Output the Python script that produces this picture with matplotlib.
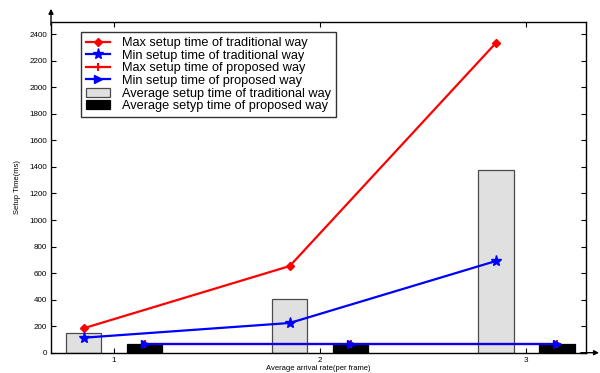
import matplotlib
matplotlib.use("Agg")
import matplotlib.pyplot as plt
import numpy as np

plt.rcParams['font.family'] = ['Liberation Sans', 'DejaVu Sans']

rates = [1, 2, 3]
max_traditional = [184, 653, 2334]
min_traditional = [113, 224, 691]
max_proposed = [65, 65, 65]
min_proposed = [65, 65, 65]
avg_traditional = [146, 405, 1378]
avg_proposed = [68, 66, 66]

labels = [
    "Max setup time of traditional way",
    "Min setup time of traditional way",
    "Max setup time of proposed way",
    "Min setup time of proposed way",
    "Average setup time of traditional way",
    "Average setyp time of proposed way",
]

x = np.array(rates, dtype=float)
offset = 0.148
width = 0.172

fig = plt.figure(figsize=(6.0, 3.73), dpi=100)
ax = fig.add_axes([0.085, 0.0544, 0.892, 0.8866])

b1 = ax.bar(x - offset, avg_traditional, width, color='#e0e0e0',
            edgecolor='#4a4a4a', linewidth=0.9, zorder=1)
b2 = ax.bar(x + offset, avg_proposed, width, color='black',
            edgecolor='black', linewidth=0.9, zorder=1)

l1, = ax.plot(x - offset, max_traditional, color='red', lw=1.6,
              marker='D', ms=4.5, mfc='red', mec='red', zorder=3)
l2, = ax.plot(x - offset, min_traditional, color='blue', lw=1.6,
              marker='*', ms=8, mfc='blue', mec='blue', zorder=4)
l3, = ax.plot(x + offset, max_proposed, color='red', lw=1.6,
              marker='+', ms=6, mew=1.5, zorder=3)
l4, = ax.plot(x + offset, min_proposed, color='blue', lw=1.6,
              marker='>', ms=6, mfc='blue', mec='blue', zorder=4)

ax.set_xlim(0.694, 3.29)
ax.set_ylim(0, 2492)
ax.set_xticks(rates)
ax.set_yticks(np.arange(0, 2401, 200))
ax.tick_params(direction='in', length=3.5, width=0.8, labelsize=5.8,
               top=True, right=True, pad=3)
for s in ax.spines.values():
    s.set_linewidth(1.0)

ax.set_ylabel("Setup Time(ms)", fontsize=5.5, labelpad=6)
ax.set_xlabel("Average arrival rate(per frame)", fontsize=5.5, labelpad=1)

# arrows extending the left and bottom axes
ax.annotate('', xy=(0, 1.04), xytext=(0, 0.99), xycoords='axes fraction',
            arrowprops=dict(arrowstyle='-|>', color='black', lw=1.0,
                            mutation_scale=7, shrinkA=0, shrinkB=0),
            annotation_clip=False)
ax.annotate('', xy=(1.024, 0), xytext=(0.99, 0), xycoords='axes fraction',
            arrowprops=dict(arrowstyle='-|>', color='black', lw=1.0,
                            mutation_scale=7, shrinkA=0, shrinkB=0),
            annotation_clip=False)

leg = ax.legend([l1, l2, l3, l4, b1, b2], labels, loc='upper left',
                bbox_to_anchor=(0.056, 0.97), borderaxespad=0,
                fontsize=9.2, frameon=True, fancybox=False, edgecolor='black',
                handlelength=1.9, handletextpad=0.9, labelspacing=0.05,
                borderpad=0.4)
leg.get_frame().set_linewidth(1.0)

fig.savefig("out.png", dpi=100)
